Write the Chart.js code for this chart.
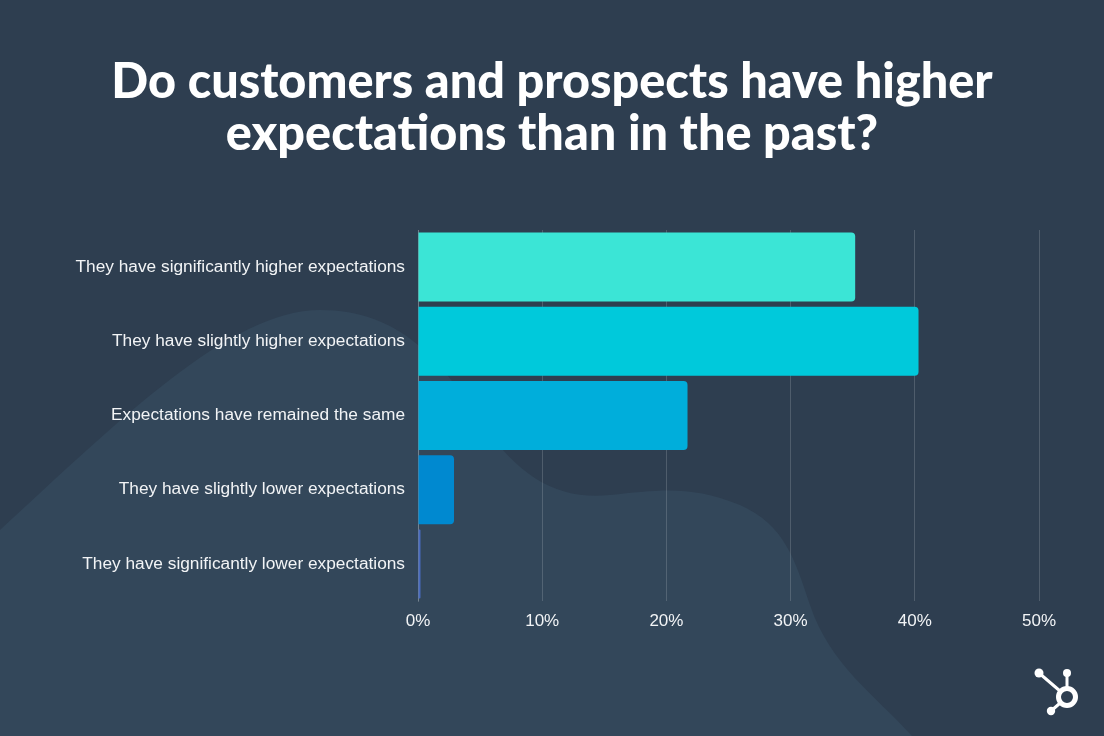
<!DOCTYPE html>
<html>
<head>
<meta charset="utf-8">
<script src="https://cdn.jsdelivr.net/npm/chart.js@4.4.0/dist/chart.umd.min.js"></script>
<style>
  html, body { margin: 0; padding: 0; background: #2e3e50; }
  #wrap { width: 1104px; height: 736px; position: relative; }
</style>
</head>
<body>
<div id="wrap"><canvas id="c" width="1104" height="736"></canvas></div>
<script>
const titleLines = ["Do customers and prospects have higher", "expectations than in the past?"];
const categories = [
  "They have significantly higher expectations",
  "They have slightly higher expectations",
  "Expectations have remained the same",
  "They have slightly lower expectations",
  "They have significantly lower expectations"
];
const values = [35.2, 40.3, 21.7, 2.9, 0.2];
const barColors = ["#3be5d6", "#00c9db", "#00aedb", "#0089d0", "#4a6cc0"];
const xTicks = [0, 10, 20, 30, 40, 50];

const bgPlugin = {
  id: 'bg',
  beforeDraw(chart) {
    const ctx = chart.ctx;
    ctx.save();
    ctx.fillStyle = '#2e3e50';
    ctx.fillRect(0, 0, 1104, 736);
    ctx.fillStyle = '#33475a';
    ctx.beginPath();
    ctx.moveTo(0, 530);
    ctx.bezierCurveTo(120, 420, 230, 310, 320, 310);
    ctx.bezierCurveTo(400, 310, 440, 360, 480, 420);
    ctx.bezierCurveTo(520, 480, 560, 500, 610, 495);
    ctx.bezierCurveTo(660, 490, 690, 485, 740, 505);
    ctx.bezierCurveTo(785, 525, 795, 560, 810, 605);
    ctx.bezierCurveTo(830, 665, 875, 695, 912, 736);
    ctx.lineTo(0, 736);
    ctx.closePath();
    ctx.fill();
    ctx.restore();
  },
  afterDraw(chart) {
    const ctx = chart.ctx;
    ctx.save();
    ctx.strokeStyle = '#ffffff';
    ctx.fillStyle = '#ffffff';
    ctx.lineWidth = 3;
    ctx.beginPath();
    ctx.moveTo(1067, 697); ctx.lineTo(1039, 673);
    ctx.moveTo(1067, 697); ctx.lineTo(1067, 673);
    ctx.moveTo(1067, 697); ctx.lineTo(1051, 711);
    ctx.stroke();
    ctx.fillStyle = '#2e3e50';
    ctx.beginPath(); ctx.arc(1067, 697, 9, 0, Math.PI * 2); ctx.fill();
    ctx.lineWidth = 5;
    ctx.strokeStyle = '#ffffff';
    ctx.beginPath(); ctx.arc(1067, 697, 8.5, 0, Math.PI * 2); ctx.stroke();
    ctx.fillStyle = '#ffffff';
    [[1039, 673, 4.5], [1067, 673, 4], [1051, 711, 4.2]].forEach(([x, y, r]) => {
      ctx.beginPath(); ctx.arc(x, y, r, 0, Math.PI * 2); ctx.fill();
    });
    ctx.restore();
  }
};

new Chart(document.getElementById('c'), {
  type: 'bar',
  data: {
    labels: categories,
    datasets: [{
      data: values,
      backgroundColor: barColors,
      borderWidth: 0,
      borderRadius: 4,
      borderSkipped: 'start',
      categoryPercentage: 1,
      barPercentage: 0.93
    }]
  },
  plugins: [bgPlugin],
  options: {
    indexAxis: 'y',
    responsive: false,
    animation: false,
    layout: { padding: { left: 65, right: 65, top: 0, bottom: 95 } },
    plugins: {
      legend: { display: false },
      tooltip: { enabled: false },
      title: {
        display: true,
        text: titleLines,
        color: '#ffffff',
        font: { family: 'Lato', size: 48.6, weight: '900', lineHeight: 1.07 },
        padding: { top: 56, bottom: 70 }
      }
    },
    scales: {
      x: {
        min: 0, max: 50,
        afterBuildTicks(scale) { scale.ticks = xTicks.map(v => ({ value: v })); },
        afterFit(scale) { scale.height = 40; },
        grid: { color: 'rgba(255,255,255,0.16)', lineWidth: 1, drawTicks: false },
        border: { display: false },
        ticks: {
          color: '#f2f4f6', padding: 10,
          font: { family: 'Liberation Sans', size: 17 },
          callback: v => v + '%'
        }
      },
      y: {
        afterFit(scale) { scale.width = 353; },
        grid: { display: false, drawTicks: false },
        border: { display: true, color: 'rgba(255,255,255,0.2)', width: 1 },
        ticks: {
          color: '#f2f4f6', padding: 13,
          font: { family: 'Liberation Sans', size: 17.3 }
        }
      }
    }
  }
});
</script>
</body>
</html>
